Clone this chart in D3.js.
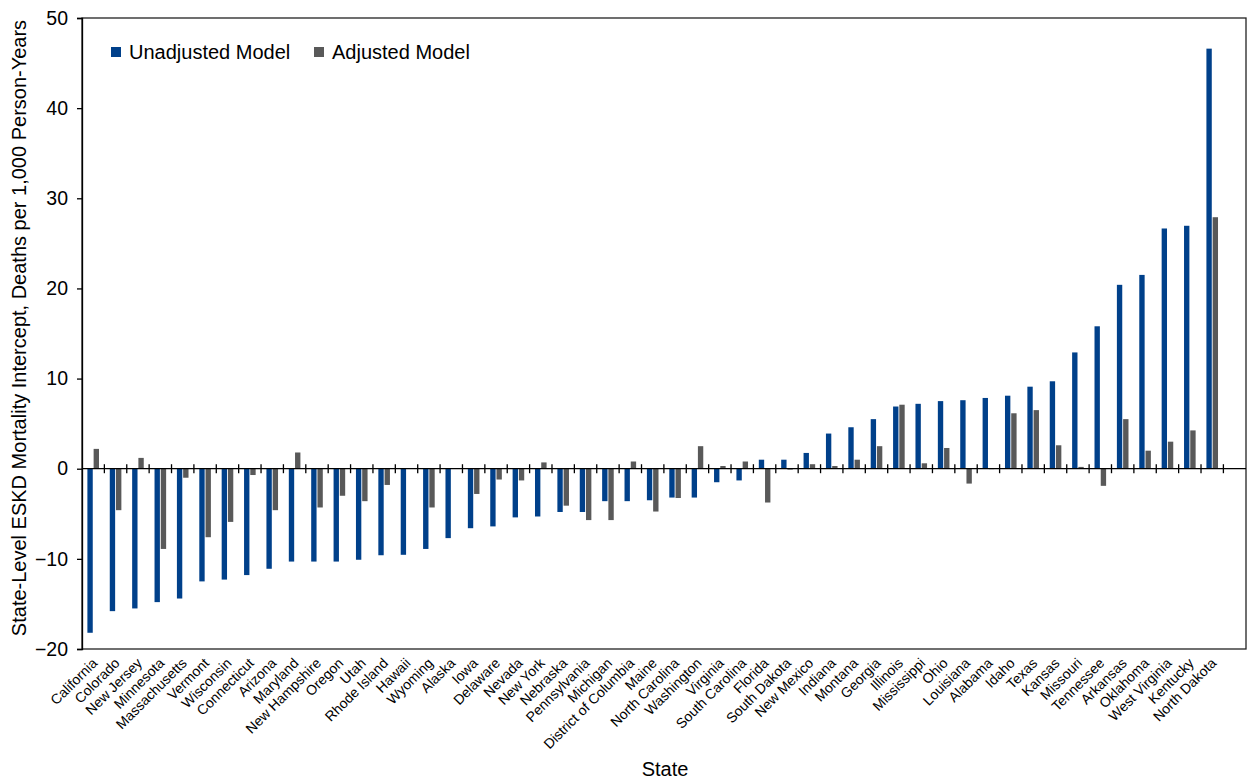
<!doctype html>
<html>
<head>
<meta charset="utf-8">
<title>State-level ESKD mortality intercept</title>
<style>
* {padding:0;margin:0}
body {background:#fff}
svg text {font-family:"Liberation Sans", Arial, Helvetica, sans-serif; fill:#000}
</style>
</head>
<body>
<div id="chart"></div>
<script src="https://d3js.org/d3.v7.min.js"></script>
<script>

const states = ["California","Colorado","New Jersey","Minnesota","Massachusetts","Vermont","Wisconsin","Connecticut","Arizona","Maryland","New Hampshire","Oregon","Utah","Rhode Island","Hawaii","Wyoming","Alaska","Iowa","Delaware","Nevada","New York","Nebraska","Pennsylvania","Michigan","District of Columbia","Maine","North Carolina","Washington","Virginia","South Carolina","Florida","South Dakota","New Mexico","Indiana","Montana","Georgia","Illinois","Mississippi","Ohio","Louisiana","Alabama","Idaho","Texas","Kansas","Missouri","Tennessee","Arkansas","Oklahoma","West Virginia","Kentucky","North Dakota"];

const unadjusted = [-18.2,-15.8,-15.5,-14.8,-14.4,-12.5,-12.3,-11.8,-11.1,-10.3,-10.3,-10.3,-10.1,-9.6,-9.55,-8.9,-7.7,-6.6,-6.4,-5.4,-5.3,-4.8,-4.8,-3.6,-3.6,-3.5,-3.2,-3.2,-1.5,-1.3,1.0,1.0,1.75,3.9,4.6,5.5,6.9,7.2,7.5,7.6,7.85,8.1,9.1,9.7,12.9,15.8,20.4,21.5,26.65,26.95,46.6];

const adjusted = [2.2,-4.6,1.2,-8.9,-1.0,-7.6,-5.9,-0.7,-4.6,1.8,-4.3,-3.0,-3.6,-1.8,0,-4.3,0,-2.8,-1.2,-1.3,0.7,-4.1,-5.7,-5.7,0.8,-4.75,-3.25,2.5,0.3,0.8,-3.75,-0.1,0.5,0.3,1.0,2.5,7.1,0.6,2.3,-1.65,-0.05,6.15,6.5,2.6,0.2,-1.9,5.5,2.0,3.0,4.25,27.9];

const yTicks = [-20,-10,0,10,20,30,40,50];
const seriesNames = ["Unadjusted Model","Adjusted Model"];
const colors = ["#00408a","#595959"];

const W = 1249, H = 779;
const m = {left: 82, right: 1246, top: 18, bottom: 649};
const catEnd = 1223.4;

const svg = d3.select("#chart").append("svg")
	.attr("width", W)
	.attr("height", H);

const x = d3.scaleBand().domain(states).range([m.left, catEnd]).padding(0);
const y = d3.scaleLinear().domain([-20, 50]).range([m.bottom, m.top]);
const bw = x.bandwidth();
const x1 = d3.scaleBand().domain([0,1]).range([bw/2 - 5.8, bw/2 + 5.8]).paddingInner(0.14);

const rows = states.map((s, i) => ({state: s, vals: [unadjusted[i], adjusted[i]]}));

// bars
const groups = svg.append("g").selectAll("g")
	.data(rows).enter().append("g")
	.attr("transform", d => "translate(" + x(d.state) + ",0)");

groups.selectAll("rect")
	.data(d => d.vals.map((v, k) => ({v: v, k: k})))
	.enter().append("rect")
	.attr("x", d => x1(d.k))
	.attr("width", x1.bandwidth())
	.attr("y", d => y(Math.max(0, d.v)))
	.attr("height", d => Math.abs(y(d.v) - y(0)))
	.attr("fill", d => colors[d.k]);

// frame
svg.append("rect")
	.attr("x", m.left).attr("y", m.top)
	.attr("width", m.right - m.left).attr("height", m.bottom - m.top)
	.attr("fill", "none").attr("stroke", "#222").attr("stroke-width", 1.3);

// y axis
const yAxis = svg.append("g")
	.attr("transform", "translate(" + m.left + ",0)")
	.call(d3.axisLeft(y).tickValues(yTicks).tickSize(5).tickPadding(9)
		.tickFormat(d => d < 0 ? "\u2212" + Math.abs(d) : d));
yAxis.select(".domain").attr("stroke", "#000").attr("stroke-width", 1.3);
yAxis.selectAll(".tick line").attr("stroke", "#000").attr("stroke-width", 1.3);
yAxis.selectAll("text").style("font-size", "19.5px").attr("fill", "#000");

// zero line with ticks at category boundaries
svg.append("line")
	.attr("x1", m.left).attr("x2", m.right)
	.attr("y1", y(0)).attr("y2", y(0))
	.attr("stroke", "#000").attr("stroke-width", 1.3);

svg.append("g").selectAll("line")
	.data(states).enter().append("line")
	.attr("x1", d => x(d) + bw).attr("x2", d => x(d) + bw)
	.attr("y1", y(0) - 4.5).attr("y2", y(0) + 4.5)
	.attr("stroke", "#000").attr("stroke-width", 1.3);

// category labels
svg.append("g").selectAll("text")
	.data(states).enter().append("text")
	.attr("transform", d => "translate(" + (x(d) + bw/2 + 5) + "," + (m.bottom + 15) + ") rotate(-45)")
	.attr("text-anchor", "end")
	.style("font-size", "14px")
	.text(d => d);

// axis titles
svg.append("text")
	.attr("x", 665).attr("y", 776)
	.attr("text-anchor", "middle")
	.style("font-size", "20px")
	.text("State");

svg.append("text")
	.attr("transform", "translate(26,328) rotate(-90)")
	.attr("text-anchor", "middle")
	.style("font-size", "20px")
	.text("State-Level ESKD Mortality Intercept, Deaths per 1,000 Person-Years");

// legend
const lx = [111, 314];
const legend = svg.append("g").selectAll("g")
	.data(seriesNames).enter().append("g")
	.attr("transform", (d, i) => "translate(" + lx[i] + ",47)");
legend.append("rect")
	.attr("width", 10).attr("height", 10)
	.attr("fill", (d, i) => colors[i]);
legend.append("text")
	.attr("x", 18).attr("y", 12)
	.style("font-size", "20px")
	.text(d => d);

</script>
</body>
</html>
